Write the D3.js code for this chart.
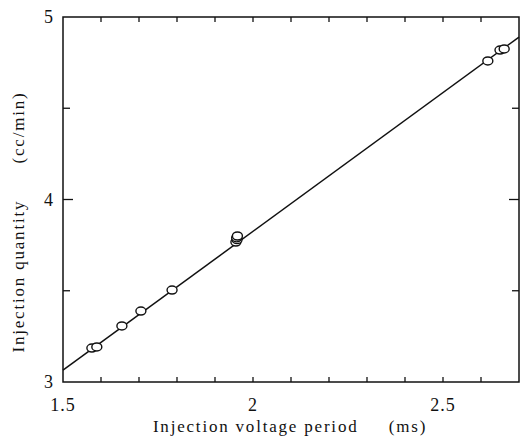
<!DOCTYPE html>
<html>
<head>
<meta charset="utf-8">
<script src="https://cdn.jsdelivr.net/npm/d3@7"></script>
<style>
  body { margin: 0; background: #fff; }
  text { font-family: "Liberation Serif", "DejaVu Serif", serif; fill: #111; }
</style>
</head>
<body>
<div id="chart"></div>
<script>
// measured points (period ms, quantity cc/min)
const periods = [1.576, 1.589, 1.655, 1.705, 1.787, 1.955, 1.958, 1.957, 1.959, 2.618, 2.650, 2.661];
const quantities = [3.186, 3.192, 3.307, 3.389, 3.504, 3.767, 3.780, 3.790, 3.800, 4.759, 4.819, 4.825];
// fitted line end points
const fitX = [1.5, 2.7];
const fitY = [3.065, 4.89];
const xLabels = [1.5, 2, 2.5];
const yLabels = [3, 4, 5];
const xMinor = d3.range(1.6, 2.7, 0.1);
const yMinor = [3.5, 4.5];

const W = 522, H = 437;
const margin = { left: 63, top: 17, right: 3, bottom: 55 };
const width = W - margin.left - margin.right;
const height = H - margin.top - margin.bottom;

const svg = d3.select("#chart").append("svg")
  .attr("width", W).attr("height", H);

const x = d3.scaleLinear().domain([1.5, 2.7]).range([0, width]);
const y = d3.scaleLinear().domain([3, 5]).range([height, 0]);

const g = svg.append("g").attr("transform", `translate(${margin.left},${margin.top})`);

// frame
g.append("rect").attr("width", width).attr("height", height)
  .attr("fill", "none").attr("stroke", "#111").attr("stroke-width", 1.5);

// inward ticks
const ticks = g.append("g").attr("stroke", "#111").attr("stroke-width", 1.3);
xMinor.forEach(v => {
  ticks.append("line").attr("x1", x(v)).attr("x2", x(v)).attr("y1", height).attr("y2", height - 5);
  ticks.append("line").attr("x1", x(v)).attr("x2", x(v)).attr("y1", 0).attr("y2", 5);
});
yMinor.forEach(v => {
  ticks.append("line").attr("x1", 0).attr("x2", 7).attr("y1", y(v)).attr("y2", y(v));
  ticks.append("line").attr("x1", width).attr("x2", width - 7).attr("y1", y(v)).attr("y2", y(v));
});
ticks.append("line").attr("x1", 0).attr("x2", 10).attr("y1", y(4)).attr("y2", y(4));
ticks.append("line").attr("x1", width).attr("x2", width - 10).attr("y1", y(4)).attr("y2", y(4));

// tick labels
g.selectAll(".xl").data(xLabels).enter().append("text")
  .attr("x", d => x(d)).attr("y", height + 29)
  .attr("text-anchor", "middle").attr("font-size", 18)
  .attr("letter-spacing", 1)
  .text(d => d);
g.selectAll(".yl").data(yLabels).enter().append("text")
  .attr("x", -10).attr("y", d => y(d) + 6)
  .attr("text-anchor", "end").attr("font-size", 18)
  .text(d => d);

// axis titles
svg.append("text")
  .attr("x", 290).attr("y", 432)
  .attr("text-anchor", "middle").attr("font-size", 17)
  .attr("letter-spacing", 1.8).attr("xml:space", "preserve")
  .text("Injection voltage period     (ms)");
svg.append("text")
  .attr("transform", "translate(24,222) rotate(-90)")
  .attr("text-anchor", "middle").attr("font-size", 17)
  .attr("letter-spacing", 1.8).attr("xml:space", "preserve")
  .text("Injection quantity      (cc/min)");

// fitted line
const line = d3.line().x(d => x(d[0])).y(d => y(d[1]));
g.append("path").datum(d3.zip(fitX, fitY))
  .attr("d", line).attr("fill", "none")
  .attr("stroke", "#111").attr("stroke-width", 1.5);

// points
g.selectAll(".pt").data(d3.zip(periods, quantities)).enter().append("ellipse")
  .attr("cx", d => x(d[0])).attr("cy", d => y(d[1]))
  .attr("rx", 5).attr("ry", 4)
  .attr("fill", "#fff").attr("stroke", "#111").attr("stroke-width", 1.4);
</script>
</body>
</html>
